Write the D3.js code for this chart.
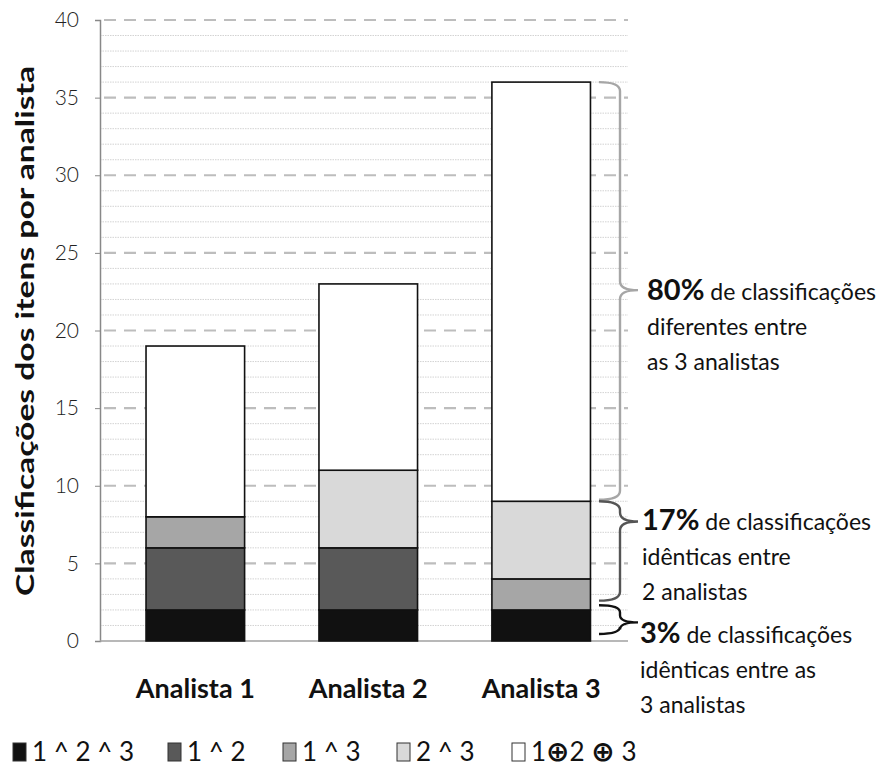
<!DOCTYPE html>
<html><head><meta charset="utf-8">
<script src="https://cdn.jsdelivr.net/npm/d3@7/dist/d3.min.js"></script>
<style>
body{margin:0;background:#fff;}
text{font-family:Lato,"Open Sans",sans-serif;}
</style></head>
<body><svg id="c" width="881" height="769"></svg>
<script>
const categories = ["Analista 1","Analista 2","Analista 3"];
const legendLabels = [["1 ^ 2 ^ 3"],["1 ^ 2"],["1 ^ 3"],["2 ^ 3"],["1","\u2295","2 ","\u2295"," 3"]];
const s123 = [2,2,2];
const s12 = [4,4,0];
const s13 = [2,0,2];
const s23 = [0,5,5];
const sXor = [11,12,27];
const yTicks = [0,5,10,15,20,25,30,35,40];
const colors = ["#111111","#595959","#a6a6a6","#d9d9d9","#ffffff"];
const braces = [
  {from:9.1, to:36, tip:22.6, color:"#a6a6a6", pct:"80%", lines:["de classificações","diferentes entre","as 3 analistas"]},
  {from:2.6, to:9.0, tip:7.7, color:"#555555", pct:"17%", lines:["de classificações","idênticas entre","2 analistas"]},
  {from:0.45, to:2.3, tip:1.2, color:"#111111", pct:"3%", lines:["de classificações","idênticas entre as","3 analistas"]}
];

const svg = d3.select("#c");
const y = d3.scaleLinear().domain([0,40]).range([641,20]);
const x = d3.scaleBand().domain(categories).range([108.5,628]).paddingInner(0.43).paddingOuter(0.217);
const plotL = 100, plotR = 628;

const g = svg.append("g");
g.selectAll("line.minor").data(d3.range(1,40).filter(v=>v%5!==0)).join("line")
  .attr("x1",plotL).attr("x2",plotR).attr("y1",d=>y(d)).attr("y2",d=>y(d))
  .attr("stroke","#d3d3d3").attr("stroke-width",1).attr("stroke-dasharray","1.5,1");
g.selectAll("line.major").data(yTicks.filter(v=>v>0)).join("line")
  .attr("x1",plotL+4).attr("x2",plotR).attr("y1",d=>y(d)).attr("y2",d=>y(d))
  .attr("stroke","#bdbdbd").attr("stroke-width",2.2).attr("stroke-dasharray","12,8");

const ya = svg.append("g").attr("transform",`translate(${plotL},0)`)
  .call(d3.axisLeft(y).tickValues(yTicks).tickSize(5).tickPadding(16));
ya.select(".domain").attr("stroke","#888").attr("stroke-width",1.5);
ya.selectAll(".tick line").attr("stroke","#888");
ya.selectAll(".tick text").attr("font-size",21).attr("fill","#222").attr("font-family","'Open Sans',sans-serif").attr("font-weight",300);
svg.append("line").attr("x1",plotL).attr("x2",plotR).attr("y1",y(0)).attr("y2",y(0)).attr("stroke","#a0a0a0").attr("stroke-width",1.5);

const seriesData = [s123,s12,s13,s23,sXor];
const rows = categories.map((c,i)=>{const o={cat:c}; seriesData.forEach((s,k)=>o["k"+k]=s[i]); return o;});
const stack = d3.stack().keys(seriesData.map((s,k)=>"k"+k))(rows);
stack.forEach((layer,k)=>{
  svg.append("g").selectAll("rect").data(layer.filter(d=>d[1]-d[0]>0)).join("rect")
    .attr("x",d=>x(d.data.cat)).attr("width",x.bandwidth())
    .attr("y",d=>y(d[1])).attr("height",d=>y(d[0])-y(d[1]))
    .attr("fill",colors[k]).attr("stroke","#111").attr("stroke-width",1.6);
});

svg.append("g").selectAll("text").data(categories).join("text")
  .attr("x",d=>x(d)+x.bandwidth()/2).attr("y",698).attr("text-anchor","middle")
  .attr("font-size",27).attr("font-weight",700).attr("fill","#111").text(d=>d);

svg.append("text").attr("transform","translate(34,331) rotate(-90)").attr("text-anchor","middle")
  .attr("font-size",25).attr("font-weight",700).attr("fill","#111")
  .attr("textLength",530).attr("lengthAdjust","spacingAndGlyphs")
  .text("Classificações dos itens por analista");

function bracePath(x0, yTop, yBot, yTip, xv, xt){
  const r = Math.min(9, (yBot-yTop)/4);
  return `M${x0},${yTop} Q${xv},${yTop} ${xv},${yTop+r} L${xv},${yTip-r} Q${xv},${yTip} ${xt},${yTip} Q${xv},${yTip} ${xv},${yTip+r} L${xv},${yBot-r} Q${xv},${yBot} ${x0},${yBot}`;
}
const tx = [647,642,640];
const tBase = [300,530,643];
braces.forEach((b,i)=>{
  const yT=y(b.to), yB=y(b.from), yt=y(b.tip);
  svg.append("path").attr("d",bracePath(599,yT,yB,yt,620,638)).attr("fill","none")
    .attr("stroke",b.color).attr("stroke-width",2.4);
  const by = tBase[i];
  const t = svg.append("text").attr("x",tx[i]).attr("y",by).attr("fill","#111").attr("font-size",23);
  t.append("tspan").attr("font-weight",700).attr("font-size",29).text(b.pct);
  t.append("tspan").text(" "+b.lines[0]);
  b.lines.slice(1).forEach((l,j)=>{
    svg.append("text").attr("x",tx[i]).attr("y",by+35*(j+1)).attr("fill","#111").attr("font-size",23).text(l);
  });
});

const lx = [13,168,283,397,512];
const lg = svg.append("g");
legendLabels.forEach((parts,i)=>{
  lg.append("rect").attr("x",lx[i]).attr("y",743).attr("width",13).attr("height",18)
    .attr("fill",colors[i]).attr("stroke","#333").attr("stroke-width",1);
  const t = lg.append("text").attr("x",lx[i]+19).attr("y",761).attr("font-size",26).attr("fill","#111");
  parts.forEach(p=>{
    const sp = t.append("tspan").text(p);
    if(p==="\u2295") sp.attr("font-family","'DejaVu Sans',sans-serif").attr("font-weight",700).attr("font-size",28);
  });
});
</script></body></html>
